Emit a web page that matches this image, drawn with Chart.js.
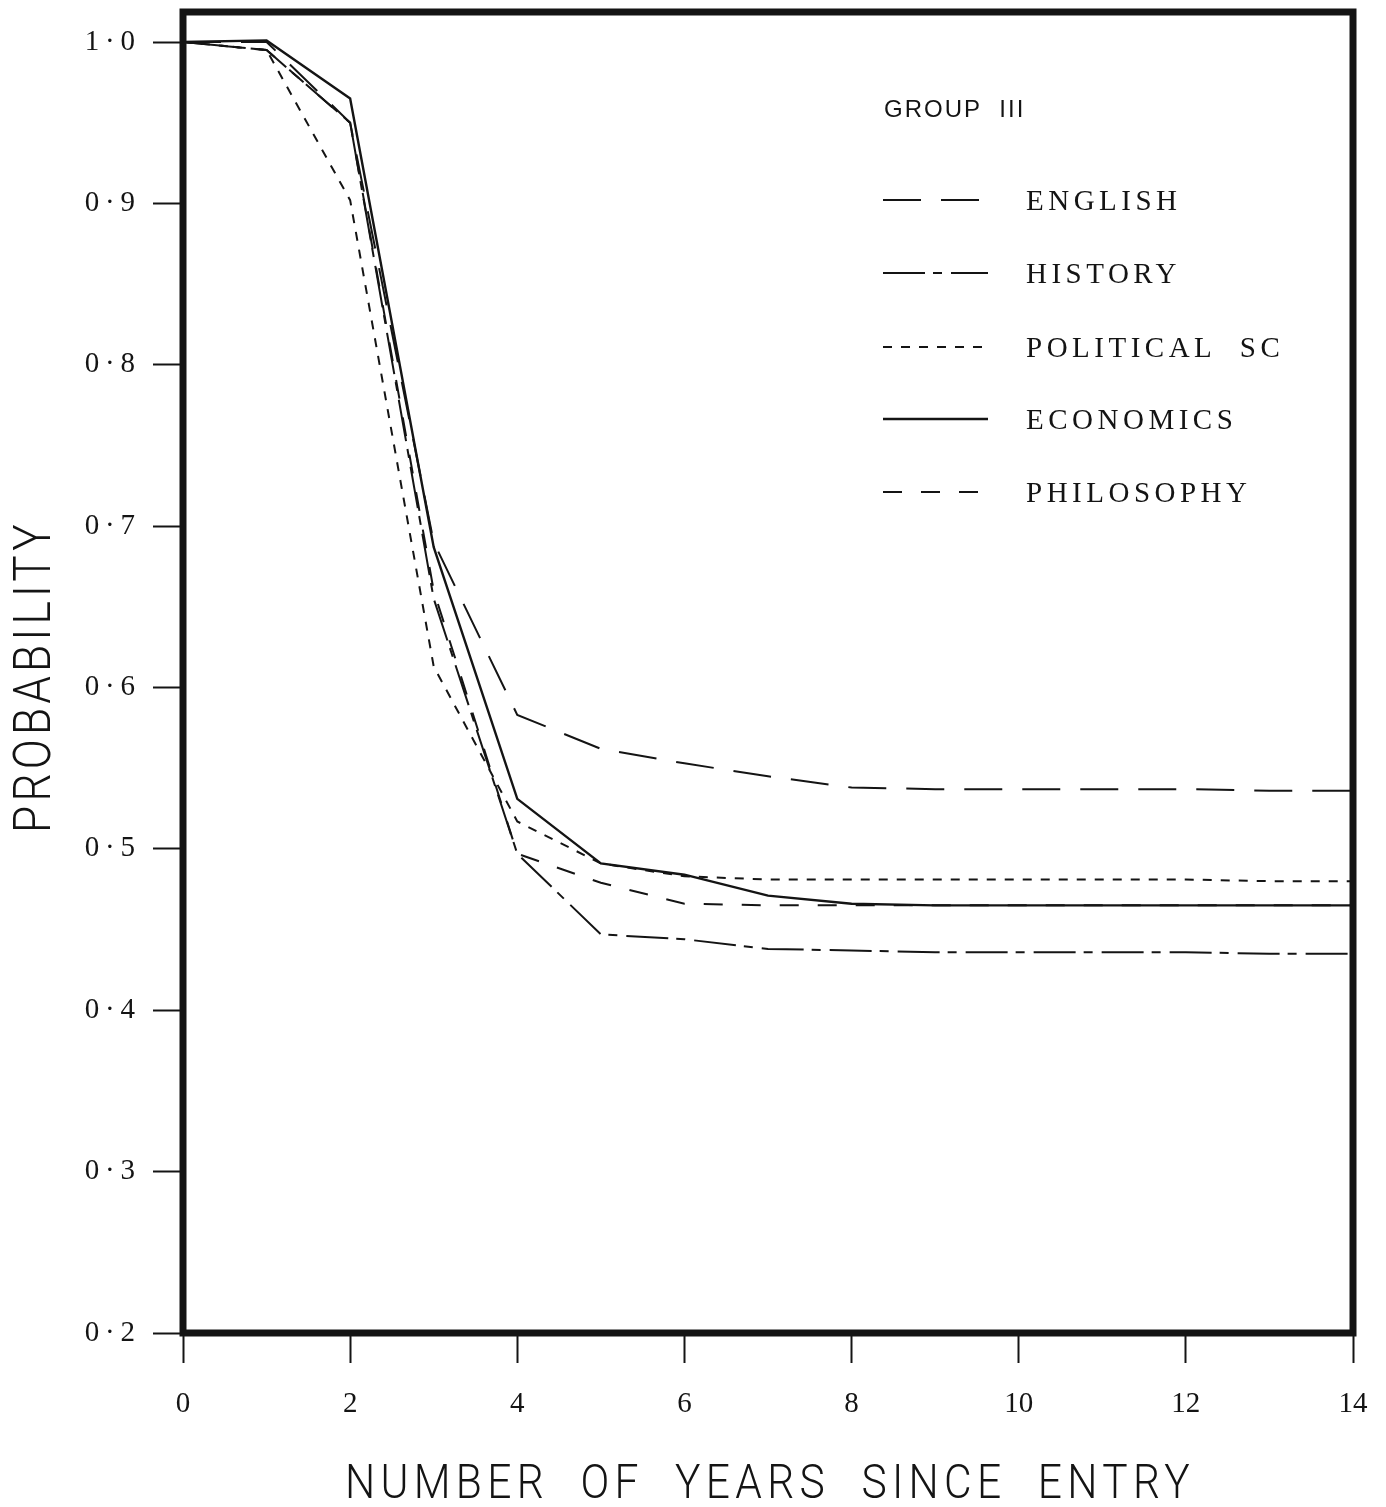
<!DOCTYPE html>
<html>
<head>
    <title>Group III - Probability by Years Since Entry</title>
    <script src="https://cdn.jsdelivr.net/npm/chart.js@4.4.0/dist/chart.umd.min.js"></script>
    <style>
        body { margin: 0; background: #fff; }
        #chartBox { width: 1386px; height: 1507px; position: relative; }
    </style>
</head>
<body>
    <div id="chartBox">
        <canvas id="groupChart"></canvas>
    </div>

    <script>
        // years since entry and the probability for each department
        const years = [0, 1, 2, 3, 4, 5, 6, 7, 8, 9, 10, 11, 12, 13, 14];
        const english = [1.0, 1.0, 0.95, 0.69, 0.583, 0.562, 0.553, 0.545, 0.538, 0.537, 0.537, 0.537, 0.537, 0.536, 0.536];
        const history = [1.0, 0.995, 0.95, 0.655, 0.497, 0.447, 0.444, 0.438, 0.437, 0.436, 0.436, 0.436, 0.436, 0.435, 0.435];
        const politicalSc = [1.0, 0.995, 0.902, 0.613, 0.517, 0.491, 0.483, 0.481, 0.481, 0.481, 0.481, 0.481, 0.481, 0.48, 0.48];
        const economics = [1.0, 1.001, 0.965, 0.687, 0.531, 0.491, 0.484, 0.471, 0.466, 0.465, 0.465, 0.465, 0.465, 0.465, 0.465];
        const philosophy = [1.0, 0.995, 0.95, 0.66, 0.497, 0.479, 0.466, 0.465, 0.465, 0.465, 0.465, 0.465, 0.465, 0.465, 0.465];

        const seriesNames = ['ENGLISH', 'HISTORY', 'POLITICAL  SC', 'ECONOMICS', 'PHILOSOPHY'];
        const xTicks = [0, 2, 4, 6, 8, 10, 12, 14];
        const yTicks = [0.2, 0.3, 0.4, 0.5, 0.6, 0.7, 0.8, 0.9, 1.0];

        const seriesValues = [english, history, politicalSc, economics, philosophy];
        const lineDashes = [[38, 20], [42, 8, 9, 9], [9, 9], [], [19, 19]];
        const lineWidths = [2, 2, 2, 2.4, 2];
        const ink = '#141414';

        // frame, legend block and axis titles
        const decorPlugin = {
            id: 'decor',
            afterDraw(chart) {
                const ctx = chart.ctx;
                const a = chart.chartArea;
                ctx.save();

                // heavy box round the plot
                ctx.strokeStyle = ink;
                ctx.lineWidth = 7;
                ctx.strokeRect(a.left, a.top, a.right - a.left, a.bottom - a.top);

                // legend
                ctx.fillStyle = ink;
                ctx.textBaseline = 'alphabetic';
                ctx.font = '24px "Liberation Sans"';
                ctx.letterSpacing = '2px';
                ctx.fillText('GROUP  III', 884, 117);

                const rows = [200, 273, 347, 419, 492];
                ctx.font = '29px "Liberation Serif"';
                ctx.letterSpacing = '4.5px';
                rows.forEach((y, i) => {
                    ctx.beginPath();
                    ctx.setLineDash(lineDashes[i]);
                    ctx.lineWidth = lineWidths[i];
                    ctx.moveTo(883, y);
                    ctx.lineTo(988, y);
                    ctx.stroke();
                    ctx.setLineDash([]);
                    ctx.fillText(seriesNames[i], 1026, y + 10);
                });

                // axis titles, thin and tracked out
                ctx.font = '300 48px Roboto';
                ctx.letterSpacing = '6px';
                const xTitle = 'NUMBER  OF  YEARS  SINCE  ENTRY';
                const xw = ctx.measureText(xTitle).width;
                ctx.save();
                ctx.translate(345, 1498);
                ctx.scale(850 / xw, 1);
                ctx.fillText(xTitle, 0, 0);
                ctx.restore();

                ctx.font = '300 52px Roboto';
                ctx.letterSpacing = '5px';
                const yTitle = 'PROBABILITY';
                const yw = ctx.measureText(yTitle).width;
                ctx.save();
                ctx.translate(50, 833);
                ctx.rotate(-Math.PI / 2);
                ctx.scale(313 / yw, 1);
                ctx.fillText(yTitle, 0, 0);
                ctx.restore();

                ctx.restore();
            }
        };

        const ctx = document.getElementById('groupChart').getContext('2d');

        const datasets = seriesValues.map((vals, i) => ({
            label: seriesNames[i],
            data: years.map((x, j) => ({ x: x, y: vals[j] })),
            borderColor: ink,
            borderWidth: lineWidths[i],
            borderDash: lineDashes[i],
            pointRadius: 0,
            tension: 0,
            fill: false
        }));

        new Chart(ctx, {
            type: 'line',
            data: { datasets: datasets },
            options: {
                responsive: true,
                maintainAspectRatio: false,
                animation: false,
                layout: { padding: { top: 12, right: 33, left: 0, bottom: 0 } },
                plugins: {
                    legend: { display: false },
                    tooltip: { enabled: false }
                },
                scales: {
                    x: {
                        type: 'linear',
                        min: 0,
                        max: 14,
                        afterBuildTicks: s => { s.ticks = xTicks.map(v => ({ value: v })); },
                        afterFit: s => {
                            s.height = 174;
                            s.paddingLeft = 0;
                            s.paddingRight = 0;
                        },
                        border: { display: false },
                        grid: { drawOnChartArea: false, drawTicks: true, tickLength: 30, tickWidth: 2, tickColor: ink },
                        ticks: {
                            color: ink,
                            font: { family: 'Liberation Serif', size: 29 },
                            padding: 24,
                            maxRotation: 0,
                            autoSkip: false
                        }
                    },
                    y: {
                        type: 'linear',
                        min: 0.2,
                        max: 1.0186,
                        afterBuildTicks: s => { s.ticks = yTicks.map(v => ({ value: v })); },
                        afterFit: s => {
                            s.width = 183;
                            s.paddingTop = 0;
                            s.paddingBottom = 0;
                        },
                        border: { display: false },
                        grid: { drawOnChartArea: false, drawTicks: true, tickLength: 30, tickWidth: 2, tickColor: ink },
                        ticks: {
                            color: ink,
                            font: { family: 'Liberation Serif', size: 29 },
                            padding: 18,
                            callback: v => v.toFixed(1).replace('.', '\u2009·\u2009')
                        }
                    }
                }
            },
            plugins: [decorPlugin]
        });
    </script>
</body>
</html>
